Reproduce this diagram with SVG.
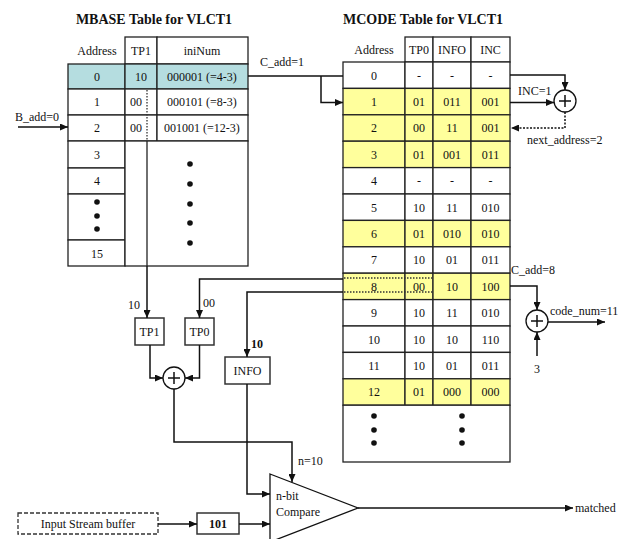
<svg xmlns="http://www.w3.org/2000/svg" width="626" height="539" viewBox="0 0 626 539">
<defs>
<marker id="ah" markerWidth="8" markerHeight="7" refX="8" refY="3.5" orient="auto" markerUnits="userSpaceOnUse">
<path d="M0,0 L8,3.5 L0,7 z" fill="#111"/>
</marker>
<style>
text{font-family:"Liberation Serif","Times New Roman",serif;font-size:12px;fill:#111}
.c{text-anchor:middle}
.t{font-size:14px;font-weight:bold}
.b{font-weight:bold}
.cell{fill:#fff;stroke:#222;stroke-width:1.3}
.y{fill:#ffff9c}
.bl{fill:#b5dde0}
.ln{fill:none;stroke:#222;stroke-width:1.3}
.dot{fill:none;stroke:#333;stroke-width:1.3;stroke-dasharray:1.5 1.5}
.w{fill:none;stroke:#111;stroke-width:1.5}
.ar{fill:none;stroke:#111;stroke-width:1.5;marker-end:url(#ah)}
.da{fill:none;stroke:#111;stroke-width:1.5;stroke-dasharray:2 1.5;marker-end:url(#ah)}
.box{fill:#fff;stroke:#333;stroke-width:1.5}
.circ{fill:#fff;stroke:#111;stroke-width:1.3}
</style>
</defs>
<rect width="626" height="539" fill="#fff"/>

<g id="mbase">
<text class="t c" x="154" y="24">MBASE Table for VLCT1</text>
<text class="c" x="97" y="55">Address</text>
<rect class="cell" x="125" y="37" width="32" height="27"/>
<rect class="cell" x="157" y="37" width="91" height="27"/>
<text class="c" x="141" y="55">TP1</text>
<text class="c" x="202" y="55">iniNum</text>
<rect class="cell bl" x="68" y="64" width="57" height="25"/>
<rect class="cell bl" x="125" y="64" width="32" height="25"/>
<rect class="cell bl" x="157" y="64" width="91" height="25"/>
<text class="c" x="97" y="81">0</text><text class="c" x="141" y="81">10</text><text class="c" x="202" y="81">000001 (=4-3)</text>
<rect class="cell" x="68" y="89" width="57" height="26"/>
<rect class="cell" x="125" y="89" width="32" height="26"/>
<rect class="cell" x="157" y="89" width="91" height="26"/>
<text class="c" x="97" y="106">1</text><text class="c" x="136" y="106">00</text><text class="c" x="202" y="106">000101 (=8-3)</text>
<rect class="cell" x="68" y="115" width="57" height="26"/>
<rect class="cell" x="125" y="115" width="32" height="26"/>
<rect class="cell" x="157" y="115" width="91" height="26"/>
<text class="c" x="97" y="132">2</text><text class="c" x="136" y="132">00</text><text class="c" x="202" y="132">001001 (=12-3)</text>
<line class="dot" x1="147" y1="90" x2="147" y2="141"/>
<rect class="cell" x="68" y="141" width="57" height="27"/>
<rect class="cell" x="68" y="168" width="57" height="26"/>
<rect class="cell" x="68" y="194" width="57" height="46"/>
<rect class="cell" x="68" y="240" width="57" height="26"/>
<rect class="cell" x="125" y="141" width="123" height="125"/>
<line class="ln" x1="147" y1="141" x2="147" y2="266"/>
<text class="c" x="97" y="159">3</text>
<text class="c" x="97" y="185">4</text>
<text class="c" x="97" y="258">15</text>
<g fill="#111">
<circle cx="97" cy="202" r="2.8"/><circle cx="97" cy="216" r="2.8"/><circle cx="97" cy="229" r="2.8"/>
<circle cx="190" cy="164" r="2.8"/><circle cx="190" cy="184" r="2.8"/><circle cx="190" cy="204" r="2.8"/><circle cx="190" cy="223" r="2.8"/><circle cx="190" cy="243" r="2.8"/>
</g>
</g>

<g id="mcode">
<text class="t c" x="423" y="24">MCODE Table for VLCT1</text>
<text class="c" x="374" y="54">Address</text>
<rect class="cell" x="405" y="37" width="28" height="25"/>
<rect class="cell" x="433" y="37" width="38" height="25"/>
<rect class="cell" x="471" y="37" width="39" height="25"/>
<text class="c" x="419" y="54">TP0</text><text class="c" x="452" y="54">INFO</text><text class="c" x="490.5" y="54">INC</text>

<g id="r0"><rect class="cell" x="343" y="62" width="62" height="26.4"/><rect class="cell" x="405" y="62" width="28" height="26.4"/><rect class="cell" x="433" y="62" width="38" height="26.4"/><rect class="cell" x="471" y="62" width="39" height="26.4"/>
<text class="c" x="374" y="79.5">0</text><text class="c" x="419" y="79.5">-</text><text class="c" x="452" y="79.5">-</text><text class="c" x="490.5" y="79.5">-</text></g>
<g id="r1"><rect class="cell y" x="343" y="88.4" width="62" height="26.4"/><rect class="cell y" x="405" y="88.4" width="28" height="26.4"/><rect class="cell y" x="433" y="88.4" width="38" height="26.4"/><rect class="cell y" x="471" y="88.4" width="39" height="26.4"/>
<text class="c" x="374" y="106">1</text><text class="c" x="419" y="106">01</text><text class="c" x="452" y="106">011</text><text class="c" x="490.5" y="106">001</text></g>
<g id="r2"><rect class="cell y" x="343" y="114.8" width="62" height="26.4"/><rect class="cell y" x="405" y="114.8" width="28" height="26.4"/><rect class="cell y" x="433" y="114.8" width="38" height="26.4"/><rect class="cell y" x="471" y="114.8" width="39" height="26.4"/>
<text class="c" x="374" y="132.4">2</text><text class="c" x="419" y="132.4">00</text><text class="c" x="452" y="132.4">11</text><text class="c" x="490.5" y="132.4">001</text></g>
<g id="r3"><rect class="cell y" x="343" y="141.2" width="62" height="26.4"/><rect class="cell y" x="405" y="141.2" width="28" height="26.4"/><rect class="cell y" x="433" y="141.2" width="38" height="26.4"/><rect class="cell y" x="471" y="141.2" width="39" height="26.4"/>
<text class="c" x="374" y="158.8">3</text><text class="c" x="419" y="158.8">01</text><text class="c" x="452" y="158.8">001</text><text class="c" x="490.5" y="158.8">011</text></g>
<g id="r4"><rect class="cell" x="343" y="167.6" width="62" height="26.4"/><rect class="cell" x="405" y="167.6" width="28" height="26.4"/><rect class="cell" x="433" y="167.6" width="38" height="26.4"/><rect class="cell" x="471" y="167.6" width="39" height="26.4"/>
<text class="c" x="374" y="185.2">4</text><text class="c" x="419" y="185.2">-</text><text class="c" x="452" y="185.2">-</text><text class="c" x="490.5" y="185.2">-</text></g>
<g id="r5"><rect class="cell" x="343" y="194" width="62" height="26.4"/><rect class="cell" x="405" y="194" width="28" height="26.4"/><rect class="cell" x="433" y="194" width="38" height="26.4"/><rect class="cell" x="471" y="194" width="39" height="26.4"/>
<text class="c" x="374" y="211.6">5</text><text class="c" x="419" y="211.6">10</text><text class="c" x="452" y="211.6">11</text><text class="c" x="490.5" y="211.6">010</text></g>
<g id="r6"><rect class="cell y" x="343" y="220.4" width="62" height="26.4"/><rect class="cell y" x="405" y="220.4" width="28" height="26.4"/><rect class="cell y" x="433" y="220.4" width="38" height="26.4"/><rect class="cell y" x="471" y="220.4" width="39" height="26.4"/>
<text class="c" x="374" y="238">6</text><text class="c" x="419" y="238">01</text><text class="c" x="452" y="238">010</text><text class="c" x="490.5" y="238">010</text></g>
<g id="r7"><rect class="cell" x="343" y="246.8" width="62" height="26.4"/><rect class="cell" x="405" y="246.8" width="28" height="26.4"/><rect class="cell" x="433" y="246.8" width="38" height="26.4"/><rect class="cell" x="471" y="246.8" width="39" height="26.4"/>
<text class="c" x="374" y="264.4">7</text><text class="c" x="419" y="264.4">10</text><text class="c" x="452" y="264.4">01</text><text class="c" x="490.5" y="264.4">011</text></g>
<g id="r8"><rect class="cell y" x="343" y="273.2" width="62" height="26.4"/><rect class="cell y" x="405" y="273.2" width="28" height="26.4"/><rect class="cell y" x="433" y="273.2" width="38" height="26.4"/><rect class="cell y" x="471" y="273.2" width="39" height="26.4"/>
<line class="dot" x1="344" y1="278" x2="432" y2="278"/><line class="dot" x1="344" y1="292" x2="432" y2="292"/>
<text class="c" x="374" y="290.8">8</text><text class="c" x="419" y="290.8">00</text><text class="c" x="452" y="290.8">10</text><text class="c" x="490.5" y="290.8">100</text></g>
<g id="r9"><rect class="cell" x="343" y="299.6" width="62" height="26.4"/><rect class="cell" x="405" y="299.6" width="28" height="26.4"/><rect class="cell" x="433" y="299.6" width="38" height="26.4"/><rect class="cell" x="471" y="299.6" width="39" height="26.4"/>
<text class="c" x="374" y="317.2">9</text><text class="c" x="419" y="317.2">10</text><text class="c" x="452" y="317.2">11</text><text class="c" x="490.5" y="317.2">010</text></g>
<g id="r10"><rect class="cell" x="343" y="326" width="62" height="26.4"/><rect class="cell" x="405" y="326" width="28" height="26.4"/><rect class="cell" x="433" y="326" width="38" height="26.4"/><rect class="cell" x="471" y="326" width="39" height="26.4"/>
<text class="c" x="374" y="343.6">10</text><text class="c" x="419" y="343.6">10</text><text class="c" x="452" y="343.6">10</text><text class="c" x="490.5" y="343.6">110</text></g>
<g id="r11"><rect class="cell" x="343" y="352.4" width="62" height="26.4"/><rect class="cell" x="405" y="352.4" width="28" height="26.4"/><rect class="cell" x="433" y="352.4" width="38" height="26.4"/><rect class="cell" x="471" y="352.4" width="39" height="26.4"/>
<text class="c" x="374" y="370">11</text><text class="c" x="419" y="370">10</text><text class="c" x="452" y="370">01</text><text class="c" x="490.5" y="370">011</text></g>
<g id="r12"><rect class="cell y" x="343" y="378.8" width="62" height="26.4"/><rect class="cell y" x="405" y="378.8" width="28" height="26.4"/><rect class="cell y" x="433" y="378.8" width="38" height="26.4"/><rect class="cell y" x="471" y="378.8" width="39" height="26.4"/>
<text class="c" x="374" y="396.4">12</text><text class="c" x="419" y="396.4">01</text><text class="c" x="452" y="396.4">000</text><text class="c" x="490.5" y="396.4">000</text></g>
<rect class="cell" x="343" y="405.2" width="167" height="56.8"/>
<g fill="#111">
<circle cx="374" cy="416" r="2.8"/><circle cx="374" cy="430" r="2.8"/><circle cx="374" cy="443" r="2.8"/>
<circle cx="462" cy="416" r="2.8"/><circle cx="462" cy="430" r="2.8"/><circle cx="462" cy="443" r="2.8"/>
</g>
</g>

<g id="tp1"><rect class="box" x="135" y="318" width="29" height="27"/><text class="c" x="149.5" y="336">TP1</text></g>
<g id="tp0"><rect class="box" x="185" y="318" width="29" height="27"/><text class="c" x="199.5" y="336">TP0</text></g>
<g id="info"><rect class="box" x="225" y="357" width="45" height="27"/><text class="c" x="247.5" y="375">INFO</text></g>
<g id="add1"><circle class="circ" cx="174" cy="378" r="11"/><path class="w" d="M168,378 H180 M174,372 V384" stroke-width="1"/></g>
<g id="add2"><circle class="circ" cx="565" cy="101" r="11"/><path class="w" d="M559,101 H571 M565,95 V107" stroke-width="1"/></g>
<g id="add3"><circle class="circ" cx="537" cy="321" r="11"/><path class="w" d="M531,321 H543 M537,315 V327" stroke-width="1"/></g>
<g id="compare"><path class="circ" d="M270,474 L358,508 L270,542 Z"/><text x="276" y="500">n-bit</text><text x="276" y="516">Compare</text></g>
<g id="input"><rect x="18" y="513" width="140" height="21" fill="#fff" stroke="#333" stroke-width="1.3" stroke-dasharray="4 2"/><text class="c" x="88" y="528">Input Stream buffer</text></g>
<g id="buf"><rect class="box" x="197" y="513" width="42" height="21"/><text class="c b" x="218" y="528">101</text></g>

<g id="connectors">
<path class="ar" d="M18,127 H68"/>
<path class="w" d="M248,76 H343"/>
<path class="ar" d="M321,76 V102.5 H343"/>
<path class="ar" d="M510,75 H565 V90"/>
<path class="ar" d="M510,102.5 H554"/>
<path class="da" d="M565,112 V128 H511"/>
<path class="ar" d="M510,286 H537 V310"/>
<path class="ar" d="M548,322 H605"/>
<path class="ar" d="M537,356 V332"/>
<path class="ar" d="M147,266 V318"/>
<path class="ar" d="M343,279 H199.5 V318"/>
<path class="ar" d="M343,292 H247 V357"/>
<path class="ar" d="M150,345 V378 H163"/>
<path class="ar" d="M199.5,345 V378 H185"/>
<path class="ar" d="M174,389 V442 H292 V482"/>
<path class="ar" d="M247,384 V494 H270"/>
<path class="ar" d="M158,524 H197"/>
<path class="ar" d="M239,524 H270"/>
<path class="ar" d="M358,508 H573"/>
</g>

<g id="labels">
<text x="15" y="121">B_add=0</text>
<text x="260" y="66">C_add=1</text>
<text x="518" y="95">INC=1</text>
<text x="527" y="144">next_address=2</text>
<text x="511" y="274">C_add=8</text>
<text x="550" y="315">code_num=11</text>
<text class="c" x="537" y="373">3</text>
<text x="128" y="309">10</text>
<text x="203" y="307">00</text>
<text class="b" x="251" y="348">10</text>
<text x="298" y="465">n=10</text>
<text x="575" y="512">matched</text>
</g>
</svg>
